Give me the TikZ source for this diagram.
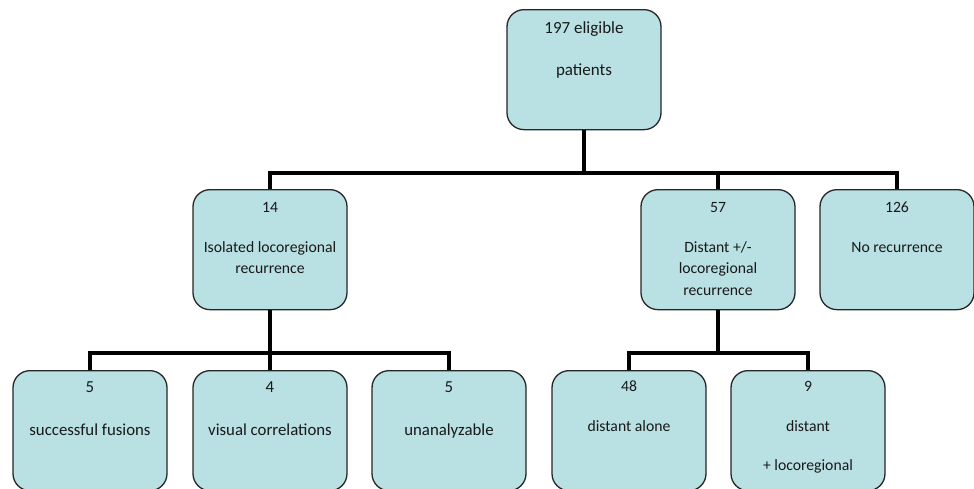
\documentclass[tikz,border=0pt]{standalone}
\usepackage{fontspec}
\setmainfont{Carlito}
\usetikzlibrary{calc}
\definecolor{boxfill}{RGB}{185,224,227}
\tikzset{
  box/.style={draw=black!85, line width=1.3pt, fill=boxfill, rounded corners=17pt,
    minimum width=154pt, minimum height=120pt, inner sep=0pt, anchor=north},
  conn/.style={line width=4.5pt, black, line join=miter},
  txt/.style={inner sep=0pt, text=black!90, font=\fontsize{15.7}{18}\selectfont,
    text height=10pt, text depth=0pt, anchor=center},
  txtbig/.style={txt, font=\fontsize{16.8}{19}\selectfont, text height=10.8pt},
  txttop/.style={txt, font=\fontsize{17}{20}\selectfont, text height=11pt}
}
\begin{document}
\begin{tikzpicture}[x=1pt,y=-1pt]
\useasboundingbox (0,0) rectangle (974,488);
\fill[white] (0,0) rectangle (974,488);
% boxes
\node[box] (top) at (584,9) {};
\node[box] (b14) at (270,189) {};
\node[box] (b57) at (718,189) {};
\node[box] (b126) at (897,189) {};
\node[box] (f5) at (90,370) {};
\node[box] (v4) at (270,370) {};
\node[box] (u5) at (449,370) {};
\node[box] (d48) at (629,370) {};
\node[box] (d9) at (808,370) {};
% connectors
\coordinate (bar1) at (0,173);
\coordinate (bar2) at (0,353);
\draw[conn] (top.south) -- (top.south |- bar1);
\draw[conn] (b14.north) -- (b14.north |- bar1) -| (b126.north);
\draw[conn] (b57.north) -- (b57.north |- bar1);
\draw[conn] (b14.south) -- (b14.south |- bar2);
\draw[conn] (f5.north) -- (f5.north |- bar2) -| (u5.north);
\draw[conn] (v4.north) -- (v4.north |- bar2);
\draw[conn] (b57.south) -- (b57.south |- bar2);
\draw[conn] (d48.north) -- (d48.north |- bar2) -| (d9.north);
% texts
\node[txttop] (t1) at ($(top.north)+(0,19)$) {197 eligible};
\node[txttop] (t2) at ($(top.north)+(0,61)$) {patients};
\node[txt] (a1) at ($(b14.north)+(0,18)$) {14};
\node[txt] (a2) at ($(b14.north)+(0,58)$) {Isolated locoregional};
\node[txt] (a3) at ($(b14.north)+(0,79)$) {recurrence};
\node[txt] (c1) at ($(b57.north)+(0,18)$) {57};
\node[txt] (c2) at ($(b57.north)+(0,58)$) {Distant +/-};
\node[txt] (c3) at ($(b57.north)+(0,79)$) {locoregional};
\node[txt] (c4) at ($(b57.north)+(0,101)$) {recurrence};
\node[txt] (n1) at ($(b126.north)+(0,18)$) {126};
\node[txt] (n2) at ($(b126.north)+(0,58)$) {No recurrence};
\node[txtbig] (f1) at ($(f5.north)+(0,17)$) {5};
\node[txtbig] (f2) at ($(f5.north)+(0,60)$) {successful fusions};
\node[txtbig] (v1) at ($(v4.north)+(0,17)$) {4};
\node[txtbig] (v2) at ($(v4.north)+(0,60)$) {visual correlations};
\node[txtbig] (u1) at ($(u5.north)+(0,17)$) {5};
\node[txtbig] (u2) at ($(u5.north)+(0,60)$) {unanalyzable};
\node[txt] (e1) at ($(d48.north)+(0,16)$) {48};
\node[txt] (e2) at ($(d48.north)+(0,56)$) {distant alone};
\node[txt] (g1) at ($(d9.north)+(0,16)$) {9};
\node[txt] (g2) at ($(d9.north)+(0,56)$) {distant};
\node[txt] (g3) at ($(d9.north)+(0,95)$) {+ locoregional};
\end{tikzpicture}
\end{document}
